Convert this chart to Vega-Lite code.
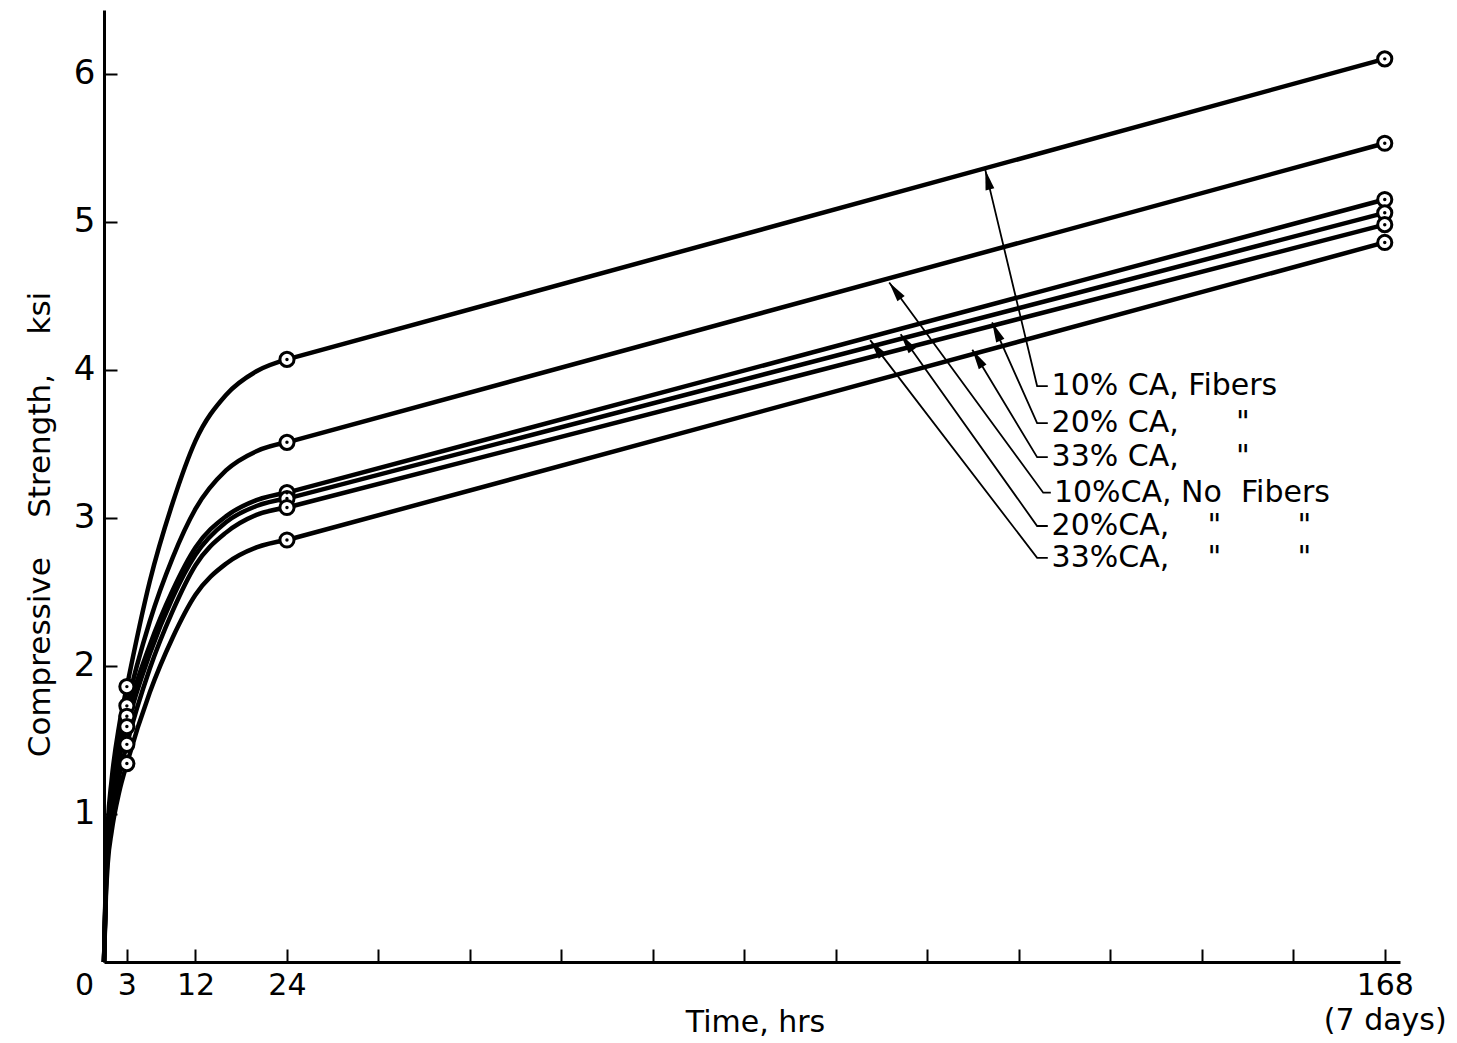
{
  "$schema": "https://vega.github.io/schema/vega-lite/v6.json",
  "width": 1296,
  "height": 952,
  "autosize": {"type": "none"},
  "padding": {"left": 104, "top": 10, "right": 57, "bottom": 81},
  "background": "white",
  "config": {"view": {"stroke": null}, "font": "DejaVu Sans"},
  "datasets": {
    "curves": [
      {"s": "A", "t": 0, "v": 0}, {"s": "A", "t": 0.25, "v": 0.61}, {"s": "A", "t": 0.5, "v": 0.93}, {"s": "A", "t": 1, "v": 1.23}, {"s": "A", "t": 2, "v": 1.6}, {"s": "A", "t": 3, "v": 1.86, "m": 1}, {"s": "A", "t": 6, "v": 2.57}, {"s": "A", "t": 9, "v": 3.1}, {"s": "A", "t": 12, "v": 3.52}, {"s": "A", "t": 16, "v": 3.83}, {"s": "A", "t": 20, "v": 3.99}, {"s": "A", "t": 24, "v": 4.07, "m": 1}, {"s": "A", "t": 168, "v": 6.1, "m": 1},
      {"s": "B", "t": 0, "v": 0}, {"s": "B", "t": 0.25, "v": 0.57}, {"s": "B", "t": 0.5, "v": 0.87}, {"s": "B", "t": 1, "v": 1.14}, {"s": "B", "t": 2, "v": 1.49}, {"s": "B", "t": 3, "v": 1.73, "m": 1}, {"s": "B", "t": 6, "v": 2.3}, {"s": "B", "t": 9, "v": 2.73}, {"s": "B", "t": 12, "v": 3.06}, {"s": "B", "t": 16, "v": 3.32}, {"s": "B", "t": 20, "v": 3.45}, {"s": "B", "t": 24, "v": 3.51, "m": 1}, {"s": "B", "t": 168, "v": 5.53, "m": 1},
      {"s": "C", "t": 0, "v": 0}, {"s": "C", "t": 0.25, "v": 0.55}, {"s": "C", "t": 0.5, "v": 0.83}, {"s": "C", "t": 1, "v": 1.1}, {"s": "C", "t": 2, "v": 1.43}, {"s": "C", "t": 3, "v": 1.66, "m": 1}, {"s": "C", "t": 6, "v": 2.14}, {"s": "C", "t": 9, "v": 2.51}, {"s": "C", "t": 12, "v": 2.8}, {"s": "C", "t": 16, "v": 3.01}, {"s": "C", "t": 20, "v": 3.12}, {"s": "C", "t": 24, "v": 3.17, "m": 1}, {"s": "C", "t": 168, "v": 5.15, "m": 1},
      {"s": "D", "t": 0, "v": 0}, {"s": "D", "t": 0.25, "v": 0.52}, {"s": "D", "t": 0.5, "v": 0.8}, {"s": "D", "t": 1, "v": 1.05}, {"s": "D", "t": 2, "v": 1.37}, {"s": "D", "t": 3, "v": 1.59, "m": 1}, {"s": "D", "t": 6, "v": 2.08}, {"s": "D", "t": 9, "v": 2.46}, {"s": "D", "t": 12, "v": 2.75}, {"s": "D", "t": 16, "v": 2.97}, {"s": "D", "t": 20, "v": 3.08}, {"s": "D", "t": 24, "v": 3.13, "m": 1}, {"s": "D", "t": 168, "v": 5.06, "m": 1},
      {"s": "E", "t": 0, "v": 0}, {"s": "E", "t": 0.25, "v": 0.49}, {"s": "E", "t": 0.5, "v": 0.74}, {"s": "E", "t": 1, "v": 0.97}, {"s": "E", "t": 2, "v": 1.26}, {"s": "E", "t": 3, "v": 1.47, "m": 1}, {"s": "E", "t": 6, "v": 1.98}, {"s": "E", "t": 9, "v": 2.37}, {"s": "E", "t": 12, "v": 2.68}, {"s": "E", "t": 16, "v": 2.9}, {"s": "E", "t": 20, "v": 3.02}, {"s": "E", "t": 24, "v": 3.07, "m": 1}, {"s": "E", "t": 168, "v": 4.98, "m": 1},
      {"s": "F", "t": 0, "v": 0}, {"s": "F", "t": 0.25, "v": 0.44}, {"s": "F", "t": 0.5, "v": 0.67}, {"s": "F", "t": 1, "v": 0.88}, {"s": "F", "t": 2, "v": 1.15}, {"s": "F", "t": 3, "v": 1.34, "m": 1}, {"s": "F", "t": 6, "v": 1.82}, {"s": "F", "t": 9, "v": 2.19}, {"s": "F", "t": 12, "v": 2.48}, {"s": "F", "t": 16, "v": 2.69}, {"s": "F", "t": 20, "v": 2.8}, {"s": "F", "t": 24, "v": 2.85, "m": 1}, {"s": "F", "t": 168, "v": 4.86, "m": 1}
    ],
    "arrows": [
      {"k": 1, "seq": 0, "t": 115.6, "v": 5.35}, {"k": 1, "seq": 1, "t": 122.4, "v": 3.89}, {"k": 1, "seq": 2, "t": 123.8, "v": 3.89},
      {"k": 2, "seq": 0, "t": 116.5, "v": 4.32}, {"k": 2, "seq": 1, "t": 122.4, "v": 3.64}, {"k": 2, "seq": 2, "t": 123.8, "v": 3.64},
      {"k": 3, "seq": 0, "t": 113.9, "v": 4.135}, {"k": 3, "seq": 1, "t": 122.4, "v": 3.41}, {"k": 3, "seq": 2, "t": 123.8, "v": 3.41},
      {"k": 4, "seq": 0, "t": 103.0, "v": 4.59}, {"k": 4, "seq": 1, "t": 123.2, "v": 3.17}, {"k": 4, "seq": 2, "t": 124.2, "v": 3.17},
      {"k": 5, "seq": 0, "t": 104.5, "v": 4.24}, {"k": 5, "seq": 1, "t": 122.4, "v": 2.945}, {"k": 5, "seq": 2, "t": 123.8, "v": 2.945},
      {"k": 6, "seq": 0, "t": 100.5, "v": 4.2}, {"k": 6, "seq": 1, "t": 122.4, "v": 2.73}, {"k": 6, "seq": 2, "t": 123.8, "v": 2.73}
    ],
    "heads": [
      {"k": 1, "t": 115.6, "v": 5.35, "ct": 122.4, "cv": 3.89},
      {"k": 2, "t": 116.5, "v": 4.32, "ct": 122.4, "cv": 3.64},
      {"k": 3, "t": 113.9, "v": 4.135, "ct": 122.4, "cv": 3.41},
      {"k": 4, "t": 103.0, "v": 4.59, "ct": 123.2, "cv": 3.17},
      {"k": 5, "t": 104.5, "v": 4.24, "ct": 122.4, "cv": 2.945},
      {"k": 6, "t": 100.5, "v": 4.2, "ct": 122.4, "cv": 2.73}
    ],
    "labels": [
      {"txt": "10% CA, Fibers", "t": 124.3, "v": 3.89},
      {"txt": "20% CA,\u00a0\u00a0\u00a0\u00a0\u00a0\u00a0\"", "t": 124.3, "v": 3.64},
      {"txt": "33% CA,\u00a0\u00a0\u00a0\u00a0\u00a0\u00a0\"", "t": 124.3, "v": 3.41},
      {"txt": "10%CA, No\u00a0\u00a0Fibers", "t": 124.6, "v": 3.17},
      {"txt": "20%CA,\u00a0\u00a0\u00a0\u00a0\"\u00a0\u00a0\u00a0\u00a0\u00a0\u00a0\u00a0\u00a0\"", "t": 124.3, "v": 2.945},
      {"txt": "33%CA,\u00a0\u00a0\u00a0\u00a0\"\u00a0\u00a0\u00a0\u00a0\u00a0\u00a0\u00a0\u00a0\"", "t": 124.3, "v": 2.73}
    ]
  },
  "encoding": {
    "x": {
      "field": "t", "type": "quantitative",
      "scale": {"domain": [0, 170], "nice": false, "zero": false},
      "axis": {
        "title": "Time, hrs",
        "values": [0, 3, 12, 24, 36, 48, 60, 72, 84, 96, 108, 120, 132, 144, 156, 168],
        "labelExpr": "datum.value == 168 ? ['168', '(7 days)'] : ((datum.value == 0 || datum.value == 3 || datum.value == 12 || datum.value == 24) ? datum.label : '')",
        "grid": false,
        "domainColor": "black", "domainWidth": 3,
        "tickColor": "black", "tickWidth": 2, "tickSize": -13,
        "labelPadding": 21, "labelFontSize": 30, "labelColor": "black",
        "labelFlush": false, "labelOverlap": false, "labelBound": false,
        "labelLineHeight": 35,
        "labelOffset": {"condition": {"test": "datum.value == 0", "value": -20}, "value": 0},
        "titleFontSize": 30, "titleFontWeight": "normal", "titleColor": "black",
        "titleX": 651, "titleY": 60, "titleBaseline": "middle", "titleAlign": "center"
      }
    },
    "y": {
      "field": "v", "type": "quantitative",
      "scale": {"domain": [0, 6.43], "nice": false},
      "axis": {
        "title": "Compressive\u00a0\u00a0\u00a0\u00a0Strength,\u00a0\u00a0\u00a0\u00a0ksi",
        "values": [1, 2, 3, 4, 5, 6],
        "grid": false,
        "domainColor": "black", "domainWidth": 3,
        "tickColor": "black", "tickWidth": 2, "tickSize": -13,
        "labelPadding": 22, "labelFontSize": 34, "labelColor": "black",
        "labelFlush": false, "labelOverlap": false,
        "titleFontSize": 31, "titleFontWeight": "normal", "titleColor": "black",
        "titleX": -64, "titleY": 514, "titleAngle": -90, "titleBaseline": "middle", "titleAlign": "center"
      }
    }
  },
  "layer": [
    {
      "data": {"name": "curves"},
      "transform": [{"filter": "datum.t <= 24"}],
      "mark": {"type": "line", "interpolate": "monotone", "color": "black", "strokeWidth": 4.5},
      "encoding": {"detail": {"field": "s"}}
    },
    {
      "data": {"name": "curves"},
      "transform": [{"filter": "datum.t >= 24"}],
      "mark": {"type": "line", "interpolate": "linear", "color": "black", "strokeWidth": 4.5},
      "encoding": {"detail": {"field": "s"}}
    },
    {
      "data": {"name": "arrows"},
      "mark": {"type": "line", "color": "black", "strokeWidth": 1.8},
      "encoding": {"detail": {"field": "k"}, "order": {"field": "seq"}}
    },
    {
      "data": {"name": "heads"},
      "transform": [{"calculate": "atan2((datum.t - datum.ct) * 7.624, (datum.v - datum.cv) * 148.06) * 180 / PI", "as": "ang"}],
      "mark": {"type": "point", "shape": "M0,0L-0.45,2L0.45,2Z", "filled": true, "color": "black", "size": 400, "opacity": 1},
      "encoding": {"angle": {"field": "ang", "type": "quantitative", "scale": null}}
    },
    {
      "data": {"name": "curves"},
      "transform": [{"filter": "datum.m == 1"}],
      "mark": {"type": "point", "shape": "circle", "filled": true, "fill": "white", "stroke": "black", "strokeWidth": 3, "size": 200, "opacity": 1}
    },
    {
      "data": {"name": "curves"},
      "transform": [{"filter": "datum.m == 1"}],
      "mark": {"type": "point", "shape": "circle", "filled": true, "color": "black", "size": 12, "opacity": 1}
    },
    {
      "data": {"name": "labels"},
      "mark": {"type": "text", "align": "left", "baseline": "middle", "fontSize": 30, "font": "DejaVu Sans", "color": "black"},
      "encoding": {"text": {"field": "txt"}}
    }
  ]
}
